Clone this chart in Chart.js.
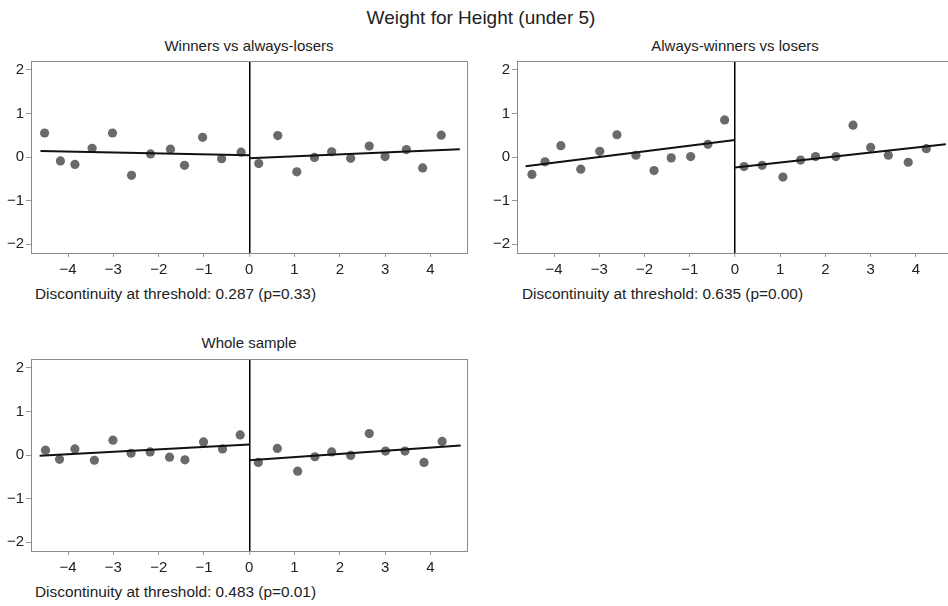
<!DOCTYPE html>
<html>
<head>
<meta charset="utf-8">
<script src="https://cdn.jsdelivr.net/npm/chart.js@4"></script>
<style>
  html, body { margin:0; padding:0; width:948px; height:606px; overflow:hidden; background:#fff; }
  body { position:relative; font-family:"Liberation Sans", Arial, Helvetica, sans-serif; color:#222; }
  .t { position:absolute; white-space:nowrap; }
  canvas { position:absolute; }
</style>
</head>
<body>
<div class="t" style="left:7px;width:948px;text-align:center;top:7px;font-size:19px;line-height:22px;">Weight for Height (under 5)</div>
<div class="t" style="left:99px;width:300px;text-align:center;top:37px;font-size:15px;line-height:18px;">Winners vs always-losers</div>
<div class="t" style="left:585px;width:300px;text-align:center;top:37px;font-size:15px;line-height:18px;">Always-winners vs losers</div>
<div class="t" style="left:99px;width:300px;text-align:center;top:334px;font-size:15px;line-height:18px;">Whole sample</div>
<div class="t" style="left:35px;top:285px;font-size:15.4px;line-height:18px;">Discontinuity at threshold: 0.287 (p=0.33)</div>
<div class="t" style="left:522px;top:285px;font-size:15.4px;line-height:18px;">Discontinuity at threshold: 0.635 (p=0.00)</div>
<div class="t" style="left:35px;top:583px;font-size:15.4px;line-height:18px;">Discontinuity at threshold: 0.483 (p=0.01)</div>

<canvas id="c1" style="left:0px;top:50px;width:474px;height:230px;"></canvas>
<canvas id="c2" style="left:474px;top:50px;width:485px;height:230px;"></canvas>
<canvas id="c3" style="left:0px;top:348px;width:474px;height:230px;"></canvas>

<script>
// ---- Data ----
const xTicks = [-4, -3, -2, -1, 0, 1, 2, 3, 4];
const yTicks = [-2, -1, 0, 1, 2];

// Panel 1: Winners vs always-losers
const p1LeftX  = [-4.52, -4.17, -3.85, -3.47, -3.02, -2.60, -2.18, -1.74, -1.43, -1.03, -0.61, -0.18];
const p1LeftY  = [0.55, -0.09, -0.17, 0.20, 0.55, -0.42, 0.07, 0.18, -0.19, 0.45, -0.04, 0.11];
const p1RightX = [0.21, 0.63, 1.05, 1.44, 1.82, 2.24, 2.65, 3.00, 3.47, 3.83, 4.24];
const p1RightY = [-0.15, 0.49, -0.34, -0.01, 0.12, -0.03, 0.25, 0.01, 0.17, -0.25, 0.50];
const p1FitLX = [-4.61, 0], p1FitLY = [0.14, 0.04];
const p1FitRX = [0, 4.65],  p1FitRY = [-0.03, 0.18];

// Panel 2: Always-winners vs losers
const p2LeftX  = [-4.49, -4.20, -3.85, -3.41, -2.99, -2.61, -2.19, -1.79, -1.41, -0.98, -0.60, -0.23];
const p2LeftY  = [-0.40, -0.11, 0.26, -0.28, 0.13, 0.51, 0.04, -0.31, -0.02, 0.01, 0.29, 0.85];
const p2RightX = [0.20, 0.60, 1.06, 1.45, 1.78, 2.23, 2.61, 3.00, 3.39, 3.83, 4.23];
const p2RightY = [-0.22, -0.19, -0.46, -0.07, 0.01, 0.01, 0.73, 0.22, 0.04, -0.12, 0.19];
const p2FitLX = [-4.63, 0], p2FitLY = [-0.21, 0.39];
const p2FitRX = [0, 4.66],  p2FitRY = [-0.24, 0.29];

// Panel 3: Whole sample
const p3LeftX  = [-4.50, -4.19, -3.85, -3.42, -3.01, -2.61, -2.19, -1.76, -1.42, -1.01, -0.59, -0.20];
const p3LeftY  = [0.11, -0.10, 0.14, -0.12, 0.34, 0.04, 0.07, -0.05, -0.11, 0.30, 0.14, 0.46];
const p3RightX = [0.20, 0.62, 1.07, 1.45, 1.82, 2.24, 2.65, 3.01, 3.44, 3.86, 4.26];
const p3RightY = [-0.17, 0.15, -0.37, -0.04, 0.07, -0.01, 0.49, 0.09, 0.09, -0.17, 0.31];
const p3FitLX = [-4.63, 0], p3FitLY = [-0.02, 0.24];
const p3FitRX = [0, 4.67],  p3FitRY = [-0.12, 0.22];

const X_MIN = -4.82, X_MAX = 4.82, Y_MIN = -2.2, Y_MAX = 2.2;

// ---- Drawing ----
const zip = (xs, ys) => xs.map((x, i) => ({ x: x, y: ys[i] }));
const minus = v => String(v).replace('-', '\u2212');
const FRAME = '#8a8a8a';
const FONT = { family: '"Liberation Sans", Arial, Helvetica, sans-serif', size: 15 };

function pointsDs(xs, ys) {
  return { type: 'scatter', data: zip(xs, ys), pointRadius: 4.6, pointHoverRadius: 4.6,
           backgroundColor: '#6a6a6a', borderWidth: 0, showLine: false };
}
function fitDs(xs, ys) {
  return { type: 'line', data: zip(xs, ys), borderColor: '#111', borderWidth: 2,
           pointRadius: 0, fill: false, tension: 0 };
}

function makePanel(id, yAxisWidth, padRight, d) {
  new Chart(document.getElementById(id), {
    type: 'scatter',
    data: { datasets: [
      fitDs(d.flx, d.fly), fitDs(d.frx, d.fry),
      pointsDs(d.lx, d.ly), pointsDs(d.rx, d.ry)
    ] },
    options: {
      responsive: false, animation: false, devicePixelRatio: 1,
      layout: { padding: { left: 0, top: 6, right: padRight, bottom: 2 } },
      plugins: { legend: { display: false }, tooltip: { enabled: false }, title: { display: false } },
      scales: {
        x: {
          type: 'linear', position: 'bottom', min: X_MIN, max: X_MAX,
          afterBuildTicks: s => { s.ticks = xTicks.map(v => ({ value: v })); },
          ticks: { includeBounds: false, color: '#222', font: FONT, padding: 4, maxRotation: 0, callback: minus },
          grid: {
            drawOnChartArea: true, drawTicks: true, tickLength: 4, tickColor: '#999', tickWidth: 1,
            color: c => (c.tick && c.tick.value === 0) ? '#000' : 'rgba(0,0,0,0)',
            lineWidth: c => (c.tick && c.tick.value === 0) ? 1.5 : 1
          },
          border: { display: true, color: FRAME, width: 1 },
          afterFit: s => { s.height = 25; }
        },
        y: {
          type: 'linear', position: 'left', min: Y_MIN, max: Y_MAX,
          afterBuildTicks: s => { s.ticks = yTicks.map(v => ({ value: v })); },
          ticks: { includeBounds: false, color: '#222', font: FONT, padding: 2, callback: minus },
          grid: { drawOnChartArea: false, drawTicks: true, tickLength: 5, tickColor: '#999' },
          border: { display: true, color: FRAME, width: 1 },
          afterFit: s => { s.width = yAxisWidth; }
        },
        x2: {
          type: 'linear', position: 'top', min: X_MIN, max: X_MAX,
          ticks: { display: false }, grid: { display: false, drawTicks: false },
          border: { display: true, color: FRAME, width: 1 },
          afterFit: s => { s.height = 0; }
        },
        y2: {
          type: 'linear', position: 'right', min: Y_MIN, max: Y_MAX,
          ticks: { display: false }, grid: { display: false, drawTicks: false },
          border: { display: true, color: FRAME, width: 1 },
          afterFit: s => { s.width = 0; }
        }
      }
    }
  });
}

function setSize(id, w, h) { const c = document.getElementById(id); c.width = w; c.height = h; }
setSize('c1', 474, 230); setSize('c2', 485, 230); setSize('c3', 474, 230);

makePanel('c1', 31, 6.5, { lx: p1LeftX, ly: p1LeftY, rx: p1RightX, ry: p1RightY,
  flx: p1FitLX, fly: p1FitLY, frx: p1FitRX, fry: p1FitRY });
makePanel('c2', 43, 6, { lx: p2LeftX, ly: p2LeftY, rx: p2RightX, ry: p2RightY,
  flx: p2FitLX, fly: p2FitLY, frx: p2FitRX, fry: p2FitRY });
makePanel('c3', 31, 6.5, { lx: p3LeftX, ly: p3LeftY, rx: p3RightX, ry: p3RightY,
  flx: p3FitLX, fly: p3FitLY, frx: p3FitRX, fry: p3FitRY });
</script>
</body>
</html>
